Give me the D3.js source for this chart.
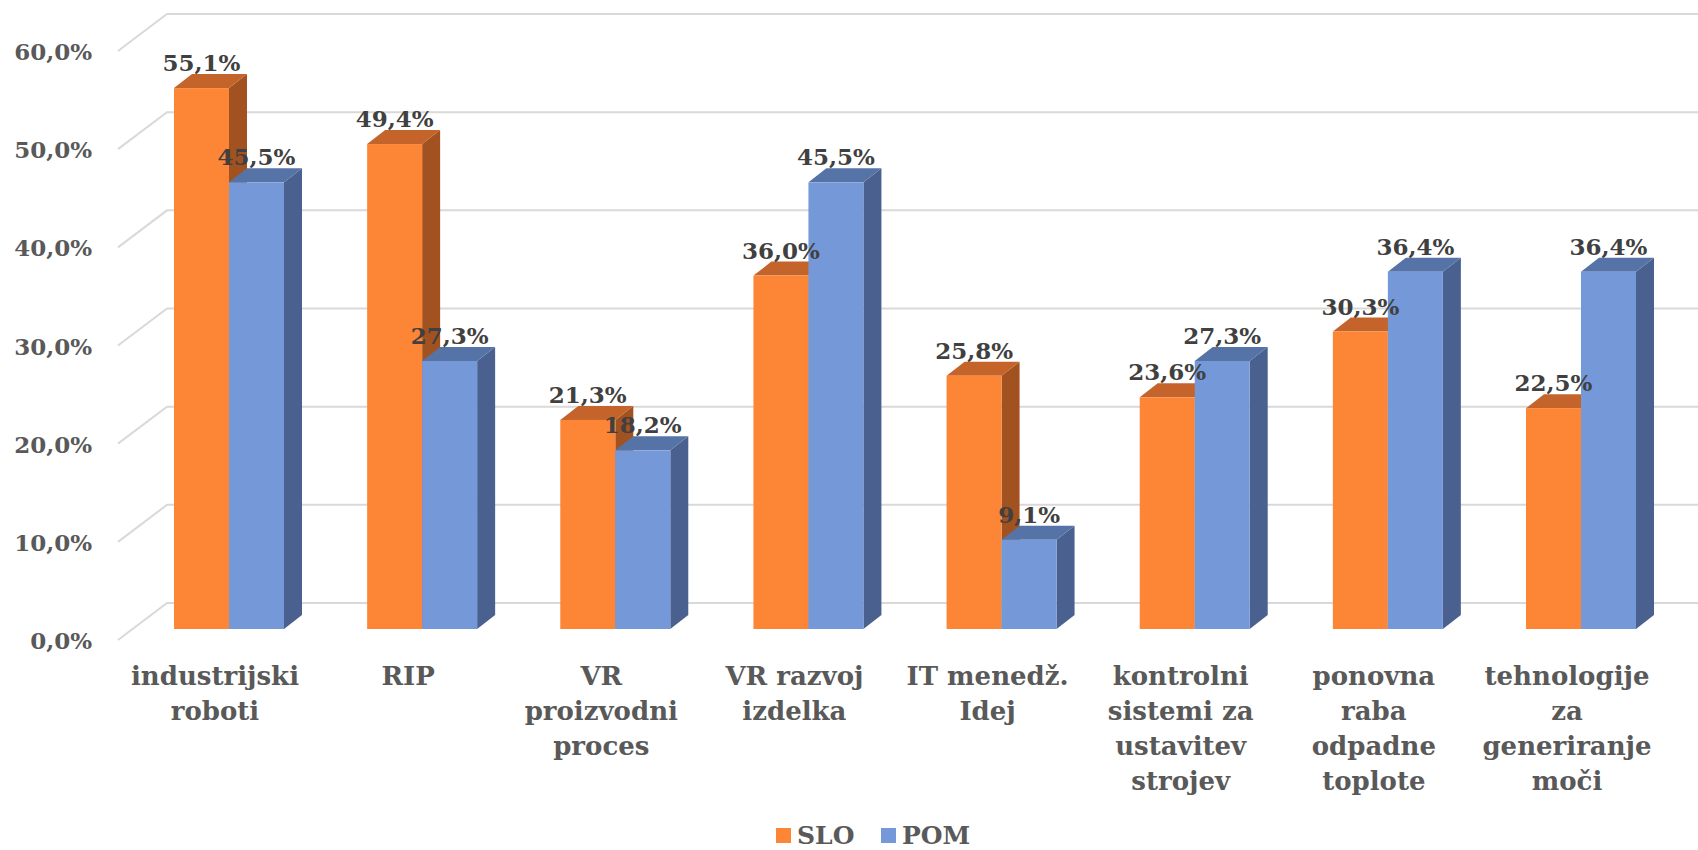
<!DOCTYPE html>
<html>
<head>
<meta charset="utf-8">
<script src="https://cdn.jsdelivr.net/npm/d3@7"></script>
<style>
  html, body { margin: 0; padding: 0; background: #ffffff; }
  svg { display: block; font-family: "DejaVu Serif", "Liberation Serif", serif; font-weight: bold; }
</style>
</head>
<body>
<svg id="chart" width="1698" height="850"></svg>
<script>
// Categories (multi-line labels) and the two series, as shares
const categories = [
  ["industrijski", "roboti"],
  ["RIP"],
  ["VR", "proizvodni", "proces"],
  ["VR razvoj", "izdelka"],
  ["IT menedž.", "Idej"],
  ["kontrolni", "sistemi za", "ustavitev", "strojev"],
  ["ponovna", "raba", "odpadne", "toplote"],
  ["tehnologije", "za", "generiranje", "moči"]
];
const seriesNames = ["SLO", "POM"];
const sloValues = [0.551, 0.494, 0.213, 0.360, 0.258, 0.236, 0.303, 0.225];
const pomValues = [0.455, 0.273, 0.182, 0.455, 0.091, 0.273, 0.364, 0.364];
const yTicks = [0, 0.1, 0.2, 0.3, 0.4, 0.5, 0.6];

// Face shading per series: front, top, side
const palette = {
  SLO: { front: "#FD8536", top: "#C4642A", side: "#A25220" },
  POM: { front: "#7598D9", top: "#5673A7", side: "#4A6190" }
};

const svg = d3.select("#chart");
const fmt = v => d3.format(".1f")(v * 100).replace(".", ",") + "%";

// Value scale on the plane of the bar fronts
const y = d3.scaleLinear().domain([0, 0.6]).range([629, 40]);
// Depth of a bar and of the wall behind the bars
const depth = { dx: 18, dy: -14 };
const wall = { dy: -26, frontX: 118, backX: 167, frontDy: 11, right: 1698 };

const keys = categories.map((c, i) => i);
const x = d3.scalePoint().domain(keys).range([229, 1581]);
const xs = d3.scaleBand().domain(seriesNames).range([-55, 55]);

// Gridlines: diagonal on the side wall + horizontal on the back wall
const grid = svg.append("g").attr("stroke", "#D9D9D9").attr("stroke-width", 2).attr("fill", "none");
yTicks.forEach(t => {
  const yb = y(t) + wall.dy;
  const yf = y(t) + wall.frontDy;
  grid.append("polyline")
    .attr("points", `${wall.frontX},${yf} ${wall.backX},${yb} ${wall.right},${yb}`);
});

// Tick labels at the front edge
svg.append("g").selectAll("text").data(yTicks).join("text")
  .attr("x", 92)
  .attr("y", t => y(t) + wall.frontDy + 9)
  .attr("text-anchor", "end")
  .attr("font-size", 23)
  .attr("fill", "#595959")
  .text(fmt);

// 3D bars
function drawBar(g, x0, w, v, col) {
  const top = y(v), base = y(0);
  const { dx, dy } = depth;
  g.append("path").attr("fill", col.side)
    .attr("d", `M${x0 + w},${top}L${x0 + w + dx},${top + dy}L${x0 + w + dx},${base + dy}L${x0 + w},${base}Z`);
  g.append("path").attr("fill", col.top)
    .attr("d", `M${x0},${top}L${x0 + dx},${top + dy}L${x0 + w + dx},${top + dy}L${x0 + w},${top}Z`);
  g.append("rect").attr("fill", col.front)
    .attr("x", x0).attr("y", top).attr("width", w).attr("height", base - top);
}

const bars = svg.append("g");
const labels = svg.append("g").attr("font-size", 23).attr("fill", "#404040").attr("text-anchor", "middle");
keys.forEach(i => {
  const vals = { SLO: sloValues[i], POM: pomValues[i] };
  seriesNames.forEach(s => {
    const x0 = x(i) + xs(s);
    drawBar(bars, x0, xs.bandwidth(), vals[s], palette[s]);
  });
});
keys.forEach(i => {
  const vals = { SLO: sloValues[i], POM: pomValues[i] };
  seriesNames.forEach(s => {
    const cx = x(i) + xs(s) + xs.bandwidth() / 2;
    labels.append("text")
      .attr("x", cx)
      .attr("y", y(vals[s]) + depth.dy - 3)
      .text(fmt(vals[s]));
  });
});

// Category labels
const cat = svg.append("g").attr("font-size", 26).attr("fill", "#595959").attr("text-anchor", "middle");
keys.forEach(i => {
  const t = cat.append("text").attr("x", x(i) - 14).attr("y", 685);
  categories[i].forEach((line, k) => {
    t.append("tspan").attr("x", x(i) - 14).attr("y", 685 + k * 35).text(line);
  });
});

// Legend
const legend = svg.append("g").attr("font-size", 25).attr("fill", "#595959");
const legendX = [776, 881];
seriesNames.forEach((s, k) => {
  legend.append("rect").attr("x", legendX[k]).attr("y", 828).attr("width", 15).attr("height", 15)
    .attr("fill", palette[s].front);
  legend.append("text").attr("x", legendX[k] + 21).attr("y", 844).text(s);
});
</script>
</body>
</html>
